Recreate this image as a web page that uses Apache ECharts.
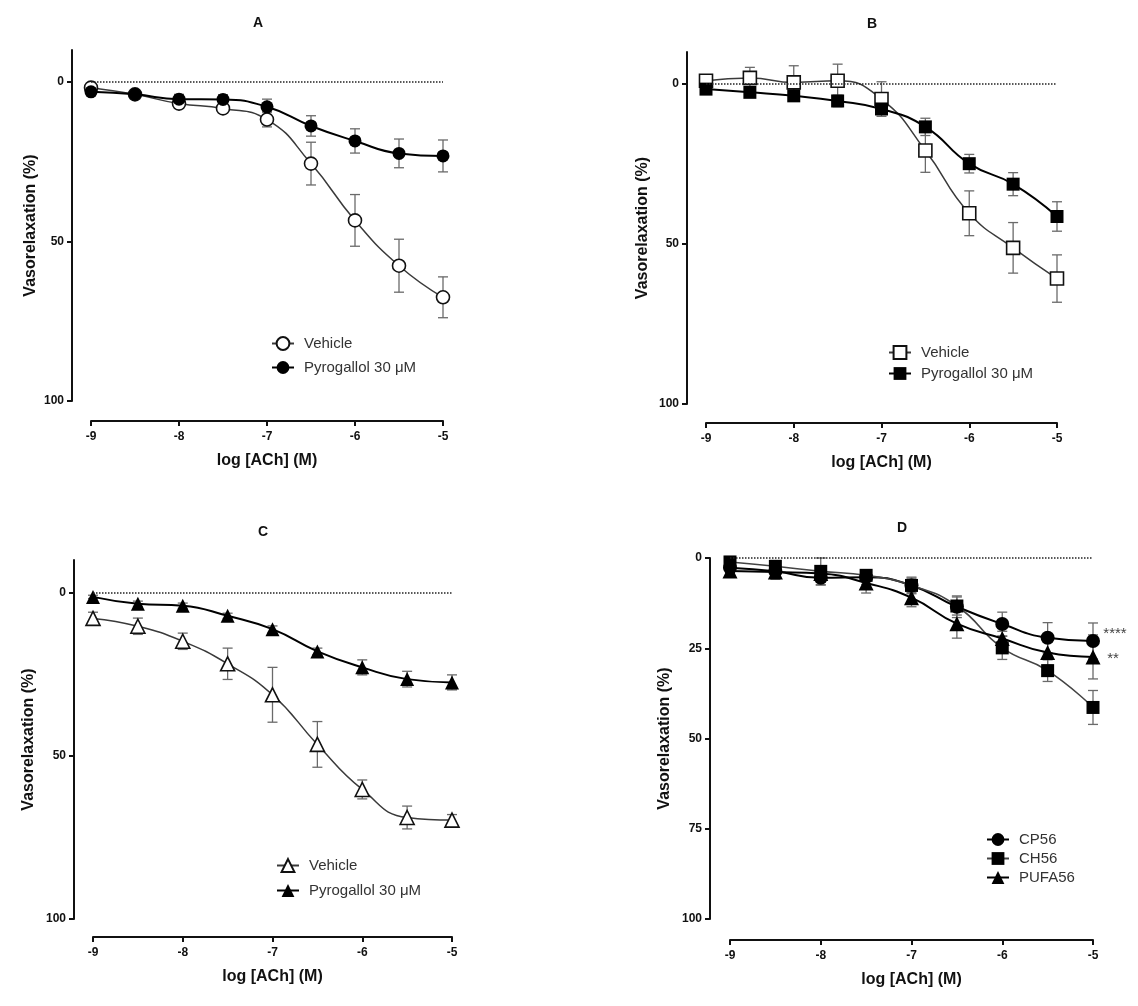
<!DOCTYPE html>
<html>
<head>
<meta charset="utf-8">
<title>Vasorelaxation</title>
<script src="https://cdn.jsdelivr.net/npm/echarts@6/dist/echarts.min.js"></script>
<style>
  html, body { margin: 0; padding: 0; background: #fff; }
  #chart { width: 1138px; height: 1006px; }
</style>
</head>
<body>
<div id="chart"></div>
<script type="text/javascript">
// log [ACh] (M)
var logAch = [-9, -8.5, -8, -7.5, -7, -6.5, -6, -5.5, -5];

// panel A - circles
var aVehicle    = [1.8, 3.9, 6.8, 8.3, 11.8, 25.6, 43.4, 57.6, 67.5];
var aVehicleErr = [0.8, 1.0, 1.5, 1.2, 2.3, 6.7, 8.1, 8.3, 6.4];
var aPyro       = [3.1, 3.9, 5.4, 5.5, 7.8, 13.8, 18.5, 22.4, 23.2];
var aPyroErr    = [0.8, 1.0, 1.5, 1.5, 2.4, 3.2, 3.8, 4.5, 5.0];

// panel B - squares
var bVehicle    = [-1.0, -1.9, -0.5, -1.0, 4.7, 20.8, 40.4, 51.2, 60.8];
var bVehicleErr = [1.2, 3.3, 5.2, 5.2, 5.4, 6.8, 7.0, 7.9, 7.4];
var bPyro       = [1.6, 2.6, 3.7, 5.3, 7.8, 13.4, 24.9, 31.3, 41.4];
var bPyroErr    = [1.0, 1.2, 1.5, 1.8, 1.5, 2.7, 2.9, 3.6, 4.6];

// panel C - triangles
var cVehicle    = [7.9, 10.3, 14.9, 21.8, 31.3, 46.5, 60.3, 68.9, 69.7];
var cVehicleErr = [1.9, 2.5, 2.5, 4.8, 8.4, 7.0, 2.9, 3.5, 1.7];
var cPyro       = [1.3, 3.4, 4.0, 7.1, 11.2, 18.0, 22.9, 26.5, 27.5];
var cPyroErr    = [0.5, 0.8, 0.8, 0.8, 1.0, 1.0, 2.3, 2.4, 2.3];

// panel D
var dCP       = [2.7, 3.7, 5.5, 5.3, 7.6, 13.5, 18.3, 22.1, 23.0];
var dCPErr    = [1.2, 1.5, 2.0, 2.0, 2.0, 3.0, 3.3, 4.2, 5.0];
var dCH       = [1.1, 2.3, 3.7, 4.8, 7.6, 13.3, 24.9, 31.2, 41.4];
var dCHErr    = [1.5, 1.5, 3.7, 1.5, 2.3, 2.5, 3.2, 3.0, 4.7];
var dPUFA     = [3.6, 3.9, 4.3, 6.9, 11.0, 18.2, 22.3, 26.2, 27.4];
var dPUFAErr  = [0.8, 2.0, 2.0, 2.8, 2.5, 4.0, 2.0, 3.5, 6.1];

var xTicks = [-9, -8, -7, -6, -5];

var FONT = 'Liberation Sans, Arial, sans-serif';
var myChart = echarts.init(document.getElementById('chart'));

function pairs(ys) {
    return ys.map(function (y, i) { return [logAch[i], y]; });
}
function errData(ys, errs) {
    return ys.map(function (y, i) { return [logAch[i], y - errs[i], y + errs[i]]; });
}
function errBars(params, api) {
    var x = api.value(0);
    var lo = api.coord([x, api.value(1)]);
    var hi = api.coord([x, api.value(2)]);
    var w = 5;
    var st = { stroke: '#6a6a6a', lineWidth: 1.3 };
    return {
        type: 'group',
        children: [
            { type: 'line', shape: { x1: lo[0], y1: lo[1], x2: hi[0], y2: hi[1] }, style: st },
            { type: 'line', shape: { x1: lo[0] - w, y1: lo[1], x2: lo[0] + w, y2: lo[1] }, style: st },
            { type: 'line', shape: { x1: hi[0] - w, y1: hi[1], x2: hi[0] + w, y2: hi[1] }, style: st }
        ]
    };
}

var grids = [], xAxes = [], yAxes = [], series = [], legends = [];

// p: grid box, yMin, yTicks, axis offsets, nameGap, legend place
function addPanel(p, lines) {
    var gi = grids.length;
    grids.push({ left: p.left, top: p.top, width: p.width, height: p.height });
    xAxes.push({
        type: 'value', gridIndex: gi, min: -9, max: -5, interval: 1,
        offset: p.xOffset,
        name: 'log [ACh] (M)', nameLocation: 'middle', nameGap: 32,
        nameTextStyle: { fontFamily: FONT, fontWeight: 'bold', fontSize: 16, color: '#111' },
        axisLine: { onZero: false, lineStyle: { color: '#111', width: 2 } },
        axisTick: { show: true, length: 5, lineStyle: { color: '#111', width: 2 }, customValues: xTicks },
        axisLabel: { fontFamily: FONT, fontWeight: 'bold', fontSize: 12, color: '#111', margin: 10, customValues: xTicks },
        splitLine: { show: false }
    });
    yAxes.push({
        type: 'value', gridIndex: gi, inverse: true, min: p.yMin, max: 100,
        offset: p.yOffset,
        name: 'Vasorelaxation (%)', nameLocation: 'middle', nameGap: p.nameGap,
        nameTextStyle: { fontFamily: FONT, fontWeight: 'bold', fontSize: 16, color: '#111' },
        axisLine: { show: true, onZero: false, lineStyle: { color: '#111', width: 2 } },
        axisTick: { show: true, length: 5, lineStyle: { color: '#111', width: 2 }, customValues: p.yTicks },
        axisLabel: { fontFamily: FONT, fontWeight: 'bold', fontSize: 12, color: '#111', margin: 8, customValues: p.yTicks },
        splitLine: { show: false }
    });
    var names = [];
    lines.forEach(function (l, k) {
        series.push({
            type: 'custom', xAxisIndex: gi, yAxisIndex: gi, z: 1,
            renderItem: errBars, encode: { x: 0, y: [1, 2] },
            data: errData(l.values, l.err), silent: true
        });
        var s = {
            name: l.name, type: 'line', xAxisIndex: gi, yAxisIndex: gi, z: 3 + k,
            data: pairs(l.values), smooth: 0.5,
            symbol: l.symbol, symbolSize: l.size,
            lineStyle: { color: l.lineColor, width: l.lineWidth },
            itemStyle: l.open
                ? { color: '#fff', borderColor: '#111', borderWidth: 1.6 }
                : { color: '#000', borderColor: '#000', borderWidth: 0 }
        };
        if (k === 0) {
            s.markLine = {
                silent: true, symbol: 'none', animation: false,
                label: { show: false },
                lineStyle: { type: 'dotted', color: '#222', width: 1.5 },
                data: [{ yAxis: 0 }]
            };
        }
        series.push(s);
        names.push(l.name);
    });
    legends.push({
        data: names, orient: 'vertical', padding: 0,
        left: p.legX - 11, top: p.legY - 8,
        itemWidth: 22, itemHeight: 16, itemGap: p.legGap,
        textStyle: { fontFamily: FONT, fontSize: 15, color: '#333', padding: [0, 0, 0, 5] },
        selectedMode: false
    });
}

addPanel({ left: 91, top: 50, width: 352, height: 351, xOffset: 20, yOffset: 19, yMin: -10, yTicks: [0, 50, 100], nameGap: 33,
           legX: 282, legY: 344, legGap: 9 }, [
    { name: 'Vehicle', values: aVehicle, err: aVehicleErr, symbol: 'circle', size: 13, open: true, lineColor: '#3a3a3a', lineWidth: 1.5 },
    { name: 'Pyrogallol 30 μM', values: aPyro, err: aPyroErr, symbol: 'circle', size: 13, open: false, lineColor: '#000', lineWidth: 2 }
]);
addPanel({ left: 706, top: 52, width: 351, height: 352, xOffset: 19, yOffset: 19, yMin: -10, yTicks: [0, 50, 100], nameGap: 36,
           legX: 899, legY: 353, legGap: 6 }, [
    { name: 'Vehicle ', values: bVehicle, err: bVehicleErr, symbol: 'rect', size: 13, open: true, lineColor: '#3a3a3a', lineWidth: 1.5 },
    { name: 'Pyrogallol 30 μM ', values: bPyro, err: bPyroErr, symbol: 'rect', size: 13, open: false, lineColor: '#000', lineWidth: 2 }
]);
addPanel({ left: 93, top: 560, width: 359, height: 359, xOffset: 18, yOffset: 19, yMin: -10, yTicks: [0, 50, 100], nameGap: 37,
           legX: 287, legY: 866, legGap: 10 }, [
    { name: 'Vehicle  ', values: cVehicle, err: cVehicleErr, symbol: 'triangle', size: 14, open: true, lineColor: '#3a3a3a', lineWidth: 1.5 },
    { name: 'Pyrogallol 30 μM  ', values: cPyro, err: cPyroErr, symbol: 'triangle', size: 14, open: false, lineColor: '#000', lineWidth: 2 }
]);
addPanel({ left: 730, top: 558, width: 363, height: 361, xOffset: 21, yOffset: 20, yMin: 0, yTicks: [0, 25, 50, 75, 100], nameGap: 37,
           legX: 997, legY: 840, legGap: 4 }, [
    { name: 'CP56', values: dCP, err: dCPErr, symbol: 'circle', size: 14, open: false, lineColor: '#000', lineWidth: 2 },
    { name: 'CH56', values: dCH, err: dCHErr, symbol: 'rect', size: 13, open: false, lineColor: '#444', lineWidth: 1.6 },
    { name: 'PUFA56', values: dPUFA, err: dPUFAErr, symbol: 'triangle', size: 15, open: false, lineColor: '#000', lineWidth: 2 }
]);

function label(txt, x, y, size, weight, color) {
    return {
        type: 'text', x: x, y: y, silent: true,
        style: { text: txt, fill: color || '#111', font: weight + ' ' + size + 'px ' + FONT,
                 textAlign: 'center', textVerticalAlign: 'middle' }
    };
}

option = {
    animation: false,
    backgroundColor: '#fff',
    grid: grids,
    xAxis: xAxes,
    yAxis: yAxes,
    legend: legends,
    series: series,
    graphic: [
        label('A', 258, 23, 14, 'bold'),
        label('B', 872, 24, 14, 'bold'),
        label('C', 263, 532, 14, 'bold'),
        label('D', 902, 528, 14, 'bold'),
        label('****', 1115, 634, 15, 'normal', '#444'),
        label('**', 1113, 659, 15, 'normal', '#444')
    ]
};
myChart.setOption(option);
</script>
</body>
</html>
